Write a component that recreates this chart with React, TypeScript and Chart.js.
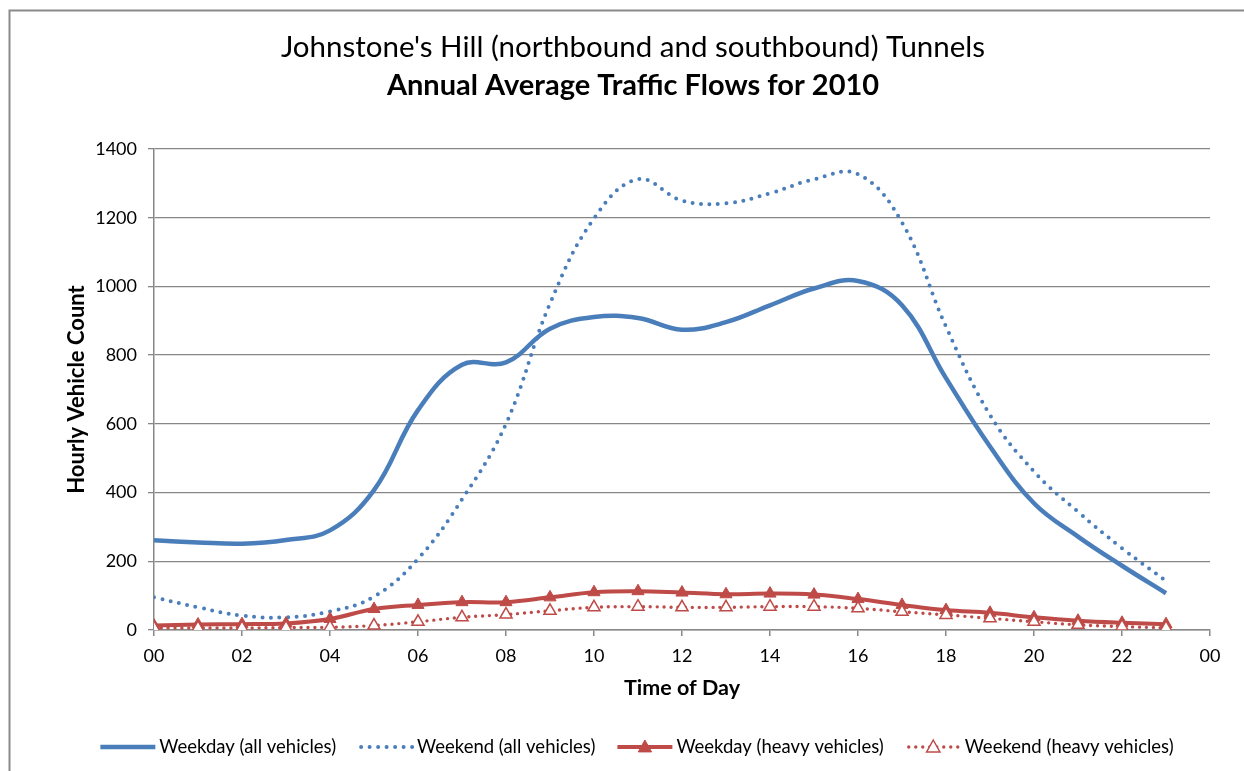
import React, { useEffect, useRef } from 'react';
import { Chart, registerables } from 'chart.js';

Chart.register(...registerables);

// ---- Data ----
const hours = [0, 1, 2, 3, 4, 5, 6, 7, 8, 9, 10, 11, 12, 13, 14, 15, 16, 17, 18, 19, 20, 21, 22, 23];
const xTickLabels = ['00', '02', '04', '06', '08', '10', '12', '14', '16', '18', '20', '22', '00'];
const yTicks = [0, 200, 400, 600, 800, 1000, 1200, 1400];

const weekdayAll = [261, 255, 251, 262, 290, 407, 640, 772, 779, 877, 911, 908, 874, 896, 945, 994, 1016, 945, 733, 534, 369, 272, 187, 107];
const weekendAll = [95, 66, 42, 37, 54, 97, 207, 380, 600, 950, 1198, 1312, 1250, 1242, 1271, 1312, 1327, 1186, 883, 626, 461, 344, 238, 143];
const weekdayHeavy = [13, 16, 17, 19, 32, 61, 73, 81, 81, 95, 110, 113, 109, 104, 106, 103, 90, 73, 58, 50, 37, 27, 21, 17];
const weekendHeavy = [6, 6, 6, 7, 8, 13, 24, 37, 45, 56, 66, 68, 66, 66, 68, 68, 63, 53, 44, 34, 24, 15, 10, 6];

const seriesNames = ['Weekday (all vehicles)', 'Weekend (all vehicles)', 'Weekday (heavy vehicles)', 'Weekend (heavy vehicles)'];
const titleLine1 = "Johnstone's Hill (northbound and southbound) Tunnels";
const titleLine2 = 'Annual Average Traffic Flows for 2010';
const xTitle = 'Time of Day';
const yTitle = 'Hourly Vehicle Count';

// ---- Styles ----
const BLUE = '#4A7EBB';
const RED = '#BE4B48';
const GRID = '#878787';
const FONT = 'Lato';

const toXY = (vals: number[]) => hours.map((h, i) => ({ x: h, y: vals[i] }));

function drawTriangle(ctx: CanvasRenderingContext2D, cx: number, cy: number, r: number, fill: string, stroke: string, lw: number) {
  ctx.beginPath();
  ctx.moveTo(cx, cy - r);
  ctx.lineTo(cx + r * 0.95, cy + r * 0.7);
  ctx.lineTo(cx - r * 0.95, cy + r * 0.7);
  ctx.closePath();
  ctx.fillStyle = fill;
  ctx.fill();
  ctx.lineWidth = lw;
  ctx.strokeStyle = stroke;
  ctx.stroke();
}

const framePlugin = {
  id: 'frame',
  beforeDraw(chart: any) {
    const ctx = chart.ctx as CanvasRenderingContext2D;
    ctx.save();
    ctx.fillStyle = '#ffffff';
    ctx.fillRect(0, 0, chart.width, chart.height);
    ctx.strokeStyle = '#8a8a8a';
    ctx.lineWidth = 2;
    ctx.beginPath();
    ctx.moveTo(9.5, chart.height + 5);
    ctx.lineTo(9.5, 10.5);
    ctx.lineTo(chart.width + 5, 10.5);
    ctx.stroke();
    ctx.restore();
  },
};

const legendPlugin = {
  id: 'customLegend',
  afterDraw(chart: any) {
    const ctx = chart.ctx as CanvasRenderingContext2D;
    ctx.save();
    ctx.font = `18.5px ${FONT}`;
    ctx.textBaseline = 'middle';
    ctx.textAlign = 'left';
    const y = 747;
    const sampleW = 55;
    const gap = 4;
    const spacing = 22;
    const widths = seriesNames.map((n) => ctx.measureText(n).width);
    const total = widths.reduce((a, w) => a + sampleW + gap + w, 0) + spacing * (seriesNames.length - 1);
    let x = 637 - total / 2;
    seriesNames.forEach((name, i) => {
      const x0 = x;
      const x1 = x + sampleW;
      ctx.save();
      ctx.beginPath();
      if (i === 0) {
        ctx.strokeStyle = BLUE; ctx.lineWidth = 4.5; ctx.setLineDash([]); ctx.lineCap = 'butt';
      } else if (i === 1) {
        ctx.strokeStyle = BLUE; ctx.lineWidth = 4; ctx.setLineDash([0, 8.5]); ctx.lineCap = 'round';
      } else if (i === 2) {
        ctx.strokeStyle = RED; ctx.lineWidth = 4; ctx.setLineDash([]); ctx.lineCap = 'butt';
      } else {
        ctx.strokeStyle = RED; ctx.lineWidth = 3.4; ctx.setLineDash([0, 7]); ctx.lineCap = 'round';
      }
      ctx.moveTo(x0 + (i === 1 || i === 3 ? 3 : 0), y);
      ctx.lineTo(x1, y);
      ctx.stroke();
      ctx.setLineDash([]);
      if (i === 2) drawTriangle(ctx, (x0 + x1) / 2, y, 7, RED, RED, 1);
      if (i === 3) drawTriangle(ctx, (x0 + x1) / 2, y, 7, '#ffffff', RED, 1.5);
      ctx.restore();
      ctx.fillStyle = '#000000';
      ctx.fillText(name, x1 + gap, y);
      x = x1 + gap + widths[i] + spacing;
    });
    ctx.restore();
  },
};

export default function App() {
  const ref = useRef<HTMLCanvasElement>(null);

  useEffect(() => {
    if (!ref.current) return;
    const chart = new Chart(ref.current, {
      type: 'line',
      data: {
        datasets: [
          {
            label: seriesNames[0],
            data: toXY(weekdayAll),
            borderColor: BLUE,
            backgroundColor: BLUE,
            borderWidth: 4.5,
            pointRadius: 0,
            tension: 0.4,
            order: 3,
          },
          {
            label: seriesNames[1],
            data: toXY(weekendAll),
            borderColor: BLUE,
            backgroundColor: BLUE,
            borderWidth: 4,
            borderDash: [0, 8.5],
            borderCapStyle: 'round',
            pointRadius: 0,
            tension: 0.4,
            order: 2,
          },
          {
            label: seriesNames[2],
            data: toXY(weekdayHeavy),
            borderColor: RED,
            backgroundColor: RED,
            borderWidth: 4,
            pointStyle: 'triangle',
            pointRadius: 7,
            pointBackgroundColor: RED,
            pointBorderColor: RED,
            pointBorderWidth: 1,
            tension: 0.4,
            order: 1,
          },
          {
            label: seriesNames[3],
            data: toXY(weekendHeavy),
            borderColor: RED,
            backgroundColor: '#ffffff',
            borderWidth: 3.4,
            borderDash: [0, 7],
            borderCapStyle: 'round',
            pointStyle: 'triangle',
            pointRadius: 7,
            pointBackgroundColor: '#ffffff',
            pointBorderColor: RED,
            pointBorderWidth: 1.5,
            tension: 0.4,
            order: 0,
          },
        ] as any,
      },
      options: {
        animation: false,
        responsive: false,
        events: [],
        layout: { padding: { left: 56, right: 34, top: 0, bottom: 60 } },
        font: { family: FONT },
        plugins: {
          legend: { display: false },
          tooltip: { enabled: false },
          title: {
            display: true,
            text: titleLine1,
            color: '#000000',
            font: { family: FONT, size: 29.5, weight: 'normal' },
            padding: { top: 29.3, bottom: 0 },
          },
          subtitle: {
            display: true,
            text: titleLine2,
            color: '#000000',
            font: { family: FONT, size: 29, weight: 'bold' },
            padding: { top: 3.9, bottom: 45.6 },
          },
        },
        scales: {
          x: {
            type: 'linear',
            min: 0,
            max: 24,
            afterFit: (scale: any) => { scale.height = 81; },
            afterBuildTicks: (scale: any) => {
              scale.ticks = xTickLabels.map((_, i) => ({ value: i * 2 }));
            },
            ticks: {
              stepSize: 2,
              color: '#000000',
              font: { family: FONT, size: 18 },
              padding: 9,
              maxRotation: 0,
              autoSkip: false,
              callback: (v: any) => xTickLabels[Math.round(Number(v) / 2)],
            },
            grid: { drawOnChartArea: false, drawTicks: true, tickLength: 6, color: GRID, lineWidth: 1.5 },
            border: { color: GRID, width: 1.5 },
            title: {
              display: true,
              text: xTitle,
              color: '#000000',
              font: { family: FONT, size: 21.5, weight: 'bold' },
              padding: { top: 4, bottom: 10.1 },
            },
          },
          y: {
            min: 0,
            max: 1400,
            afterFit: (scale: any) => { scale.width = 98; },
            afterBuildTicks: (scale: any) => {
              scale.ticks = yTicks.map((v) => ({ value: v }));
            },
            ticks: {
              stepSize: 200,
              color: '#000000',
              font: { family: FONT, size: 18 },
              padding: 11,
              callback: (v: any) => String(v),
            },
            grid: { color: GRID, lineWidth: 1.3, tickLength: 6, drawTicks: true },
            border: { color: GRID, width: 1.5 },
            title: {
              display: true,
              text: yTitle,
              color: '#000000',
              font: { family: FONT, size: 22, weight: 'bold' },
              padding: { top: 7.8, bottom: 4 },
            },
          },
        },
      } as any,
      plugins: [framePlugin, legendPlugin],
    });
    return () => chart.destroy();
  }, []);

  return (
    <div style={{ position: 'fixed', left: 0, top: 0, width: 1244, height: 771, background: '#ffffff' }}>
      <canvas ref={ref} width={1244} height={771} style={{ display: 'block', width: 1244, height: 771 }} />
    </div>
  );
}
